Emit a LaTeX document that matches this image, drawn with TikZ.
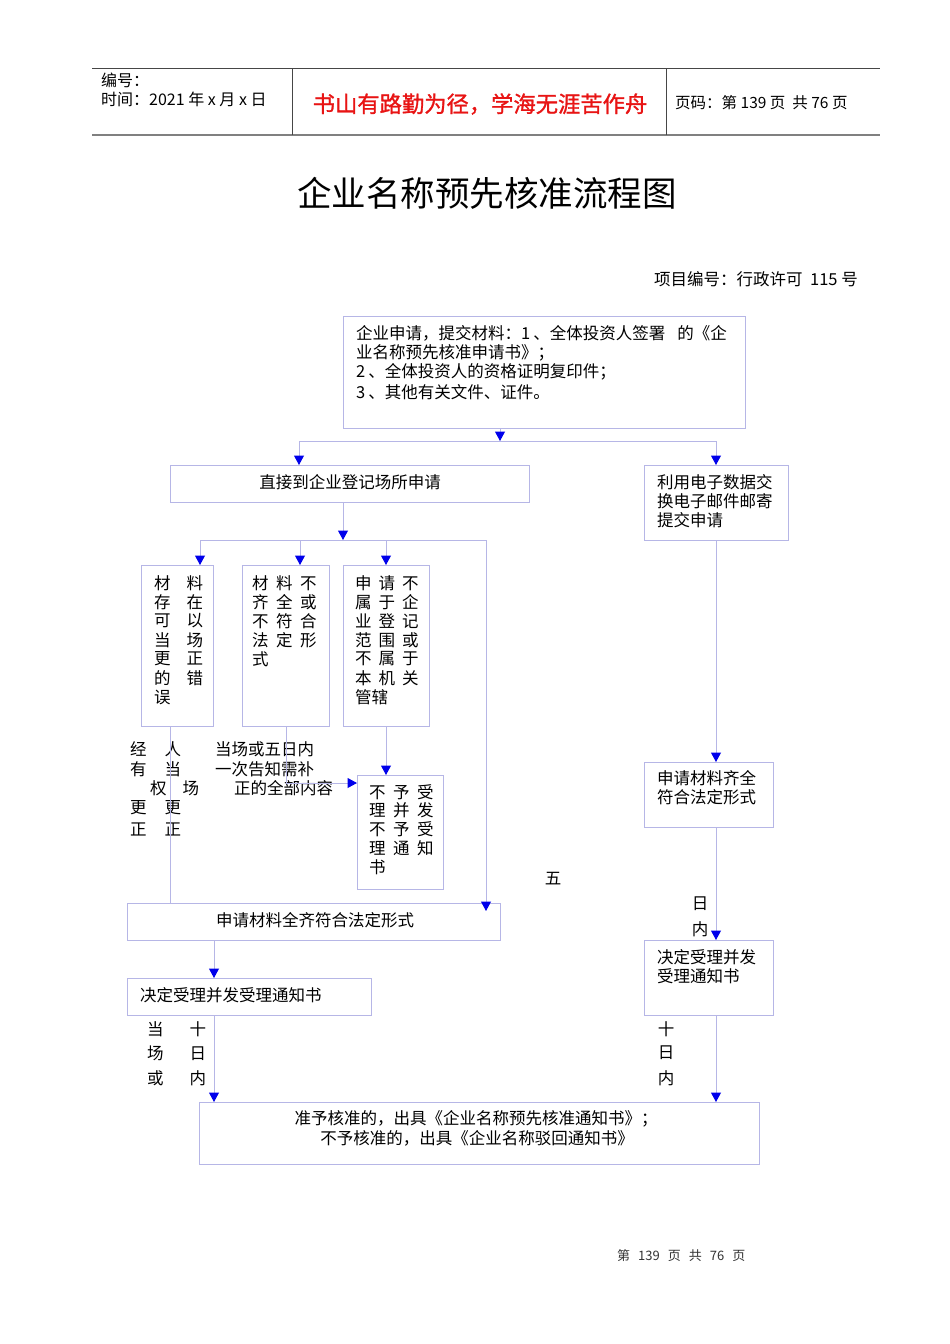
\documentclass[tikz,border=0pt]{standalone}
\usepackage{fontspec}
\setmainfont{Noto Sans CJK SC}
\newfontfamily\cjkfb{Noto Sans CJK SC}[FakeBold=1.2]
\usetikzlibrary{arrows.meta}
\definecolor{boxc}{RGB}{182,182,230}
\definecolor{arrc}{RGB}{0,0,235}
\definecolor{redt}{RGB}{232,20,20}
\definecolor{hdr}{RGB}{70,70,70}
\newcommand\bx[5]{\node[box,minimum width={#4-#2},minimum height={#5-#3}] (#1) at (#2,#3) {};}
\begin{document}
\begin{tikzpicture}[x=1pt,y=-1pt,
 box/.style={draw=boxc,line width=1pt,inner sep=0pt,outer sep=0pt,anchor=north west},
 conn/.style={draw=boxc,line width=1pt},
 arr/.style={conn,-{Triangle[color=arrc,width=10pt,length=9.5pt]}},
 txt/.style={inner sep=0pt,anchor=west,font=\fontsize{16.5}{19}\selectfont},
 ctxt/.style={txt,anchor=center},
 htxt/.style={inner sep=0pt,anchor=west,font=\fontsize{16}{18}\selectfont}]
\useasboundingbox[fill=white] (0,0) rectangle (950,1344);

% header
\coordinate (h1) at (92,68); \coordinate (h2) at (880,68);
\coordinate (h3) at (92,135); \coordinate (h4) at (880,135);
\coordinate (v1t) at (292,68); \coordinate (v1b) at (292,135);
\coordinate (v2t) at (666,68); \coordinate (v2b) at (666,135);
\draw[hdr,line width=1pt] (h1) -- (h2);
\draw[gray,line width=2pt] (h3) -- (h4);
\draw[hdr,line width=1pt] (v1t) -- (v1b);
\draw[hdr,line width=1pt] (v2t) -- (v2b);
\node[htxt] (hno) at (101,80) {编号：};
\node[htxt] (htime) at (101,99) {时间：2021 年 x 月 x 日};
\node[inner sep=0pt,text=redt,font=\cjkfb\fontsize{22.3}{25}\selectfont] (motto) at (480,104) {书山有路勤为径，学海无涯苦作舟};
\node[inner sep=0pt,anchor=west,font=\fontsize{15.5}{18}\selectfont] (hpage) at (675,103) {页码：第 139 页\ \ 共 76 页};

% title
\node[inner sep=0pt,font=\fontsize{34.5}{38}\selectfont] (title) at (487,193) {企业名称预先核准流程图};
\node[txt,anchor=east] (projno) at (858,279) {项目编号：行政许可\ \ 115 号};

% boxes
\bx{top}{343}{316}{745}{428}
\bx{direct}{170}{465}{529}{502}
\bx{email}{644}{465}{788}{540}
\bx{m1}{141}{565}{213}{726}
\bx{m2}{242}{565}{329}{726}
\bx{m3}{343}{565}{429}{726}
\bx{reject}{357}{775}{443}{889}
\bx{full}{127}{903}{500}{940}
\bx{decide}{127}{978}{371}{1015}
\bx{rfull}{644}{762}{773}{827}
\bx{rdecide}{644}{940}{773}{1015}
\bx{final}{199}{1102}{759}{1164}

% box texts
\node[txt] (t1) at (356,333) {企业申请，提交材料：1\hspace{3pt}、全体投资人签署\hspace{12pt}的《企};
\node[txt] (t2) at (356,353) {业名称预先核准申请书》；};
\node[txt] (t3) at (356,372) {2\hspace{3pt}、全体投资人的资格证明复印件；};
\node[txt] (t4) at (356,392) {3\hspace{3pt}、其他有关文件、证件。};

\node[ctxt] (tdirect) at (350,482) {直接到企业登记场所申请};

\node[txt] (te1) at (657,482) {利用电子数据交};
\node[txt] (te2) at (657,501) {换电子邮件邮寄};
\node[txt] (te3) at (657,520) {提交申请};

% box m1
\node[txt] (a1) at (154,583) {材\hspace{16pt}料};
\node[txt] (a2) at (154,602) {存\hspace{16pt}在};
\node[txt] (a3) at (154,621) {可\hspace{16pt}以};
\node[txt] (a4) at (154,640) {当\hspace{16pt}场};
\node[txt] (a5) at (154,659) {更\hspace{16pt}正};
\node[txt] (a6) at (154,678) {的\hspace{16pt}错};
\node[txt] (a7) at (154,697) {误};
% box m2
\node[txt] (b1) at (252,583) {材\hspace{7.5pt}料\hspace{7.5pt}不};
\node[txt] (b2) at (252,602) {齐\hspace{7.5pt}全\hspace{7.5pt}或};
\node[txt] (b3) at (252,621) {不\hspace{7.5pt}符\hspace{7.5pt}合};
\node[txt] (b4) at (252,640) {法\hspace{7.5pt}定\hspace{7.5pt}形};
\node[txt] (b5) at (252,659) {式};
% box m3
\node[txt] (c1) at (355,583) {申\hspace{7pt}请\hspace{7pt}不};
\node[txt] (c2) at (355,602) {属\hspace{7pt}于\hspace{7pt}企};
\node[txt] (c3) at (355,621) {业\hspace{7pt}登\hspace{7pt}记};
\node[txt] (c4) at (355,640) {范\hspace{7pt}围\hspace{7pt}或};
\node[txt] (c5) at (355,659) {不\hspace{7pt}属\hspace{7pt}于};
\node[txt] (c6) at (355,678) {本\hspace{7pt}机\hspace{7pt}关};
\node[txt] (c7) at (355,697) {管辖};
% reject box
\node[txt] (d1) at (369,792) {不\hspace{7.5pt}予\hspace{7.5pt}受};
\node[txt] (d2) at (369,810) {理\hspace{7.5pt}并\hspace{7.5pt}发};
\node[txt] (d3) at (369,829) {不\hspace{7.5pt}予\hspace{7.5pt}受};
\node[txt] (d4) at (369,848) {理\hspace{7.5pt}通\hspace{7.5pt}知};
\node[txt] (d5) at (369,867) {书};

\node[ctxt] (tfull) at (315,920) {申请材料全齐符合法定形式};
\node[txt] (tdecide) at (140,995) {决定受理并发受理通知书};
\node[txt] (trf1) at (657,778) {申请材料齐全};
\node[txt] (trf2) at (657,797) {符合法定形式};
\node[txt] (trd1) at (657,957) {决定受理并发};
\node[txt] (trd2) at (657,976) {受理通知书};
\node[ctxt] (tf1) at (476,1119) {准予核准的，出具《企业名称预先核准通知书》；};
\node[ctxt] (tf2) at (477,1138) {不予核准的，出具《企业名称驳回通知书》};

% free labels
\node[txt] (l1) at (130,749) {经\hspace{18pt}人};
\node[txt] (l2) at (130,769) {有\hspace{18pt}当};
\node[txt] (l3) at (150,788) {权\hspace{16pt}场};
\node[txt] (l4) at (130,808) {更\hspace{18pt}更};
\node[txt] (l5) at (130,829) {正\hspace{18pt}正};
\node[txt] (n1) at (215,749) {当场或五日内};
\node[txt] (n2) at (215,769) {一次告知需补};
\node[txt] (n3) at (234,788) {正的全部内容};
\node[ctxt] (five) at (553,879) {五};
\node[ctxt] (ri1) at (700,904) {日};
\node[ctxt] (ri2) at (700,929) {内};
\node[txt] (bl1) at (147,1029) {当\hspace{26pt}十};
\node[txt] (bl2) at (147,1053) {场\hspace{26pt}日};
\node[txt] (bl3) at (147,1078) {或\hspace{26pt}内};
\node[ctxt] (br1) at (666,1029) {十};
\node[ctxt] (br2) at (666,1053) {日};
\node[ctxt] (br3) at (666,1078) {内};

% footer
\node[inner sep=0pt,anchor=west,text=black!80,font=\fontsize{13}{15}\selectfont] (footer) at (617,1256) {第\hspace{8pt}139\hspace{8pt}页\hspace{8pt}共\hspace{8pt}76\hspace{8pt}页};

% connectors
\coordinate (j1) at (500,441);
\coordinate (j1l) at (299,441);
\coordinate (j1r) at (716,441);
\draw[arr] (j1 |- top.south) -- (j1);
\draw[conn] (j1l) -- (j1r);
\draw[arr] (j1l) -- (j1l |- direct.north);
\draw[arr] (j1r) -- (j1r |- email.north);

\coordinate (j2) at (343,540);
\coordinate (j2l) at (200,540);
\coordinate (j2a) at (300,540);
\coordinate (j2b) at (386,540);
\coordinate (j2r) at (486,540);
\coordinate (j2e) at (486,911);
\draw[arr] (j2 |- direct.south) -- (j2);
\draw[conn] (j2l) -- (j2r);
\draw[arr] (j2l) -- (j2l |- m1.north);
\draw[arr] (j2a) -- (j2a |- m2.north);
\draw[arr] (j2b) -- (j2b |- m3.north);
\draw[arr] (j2r) -- (j2e);

\coordinate (k1) at (170,726);
\draw[conn] (k1) -- (k1 |- full.north);
\coordinate (k2) at (286,726);
\coordinate (k2c) at (286,783);
\draw[arr] (k2) -- (k2c) -- (reject.west |- k2c);
\coordinate (k3) at (386,726);
\draw[arr] (k3) -- (k3 |- reject.north);

\coordinate (k4) at (214,940);
\draw[arr] (k4) -- (k4 |- decide.north);
\coordinate (k5) at (214,1015);
\draw[arr] (k5) -- (k5 |- final.north);

\coordinate (r1) at (716,540);
\draw[arr] (r1) -- (r1 |- rfull.north);
\coordinate (r2) at (716,827);
\draw[arr] (r2) -- (r2 |- rdecide.north);
\coordinate (r3) at (716,1015);
\draw[arr] (r3) -- (r3 |- final.north);
\end{tikzpicture}
\end{document}
